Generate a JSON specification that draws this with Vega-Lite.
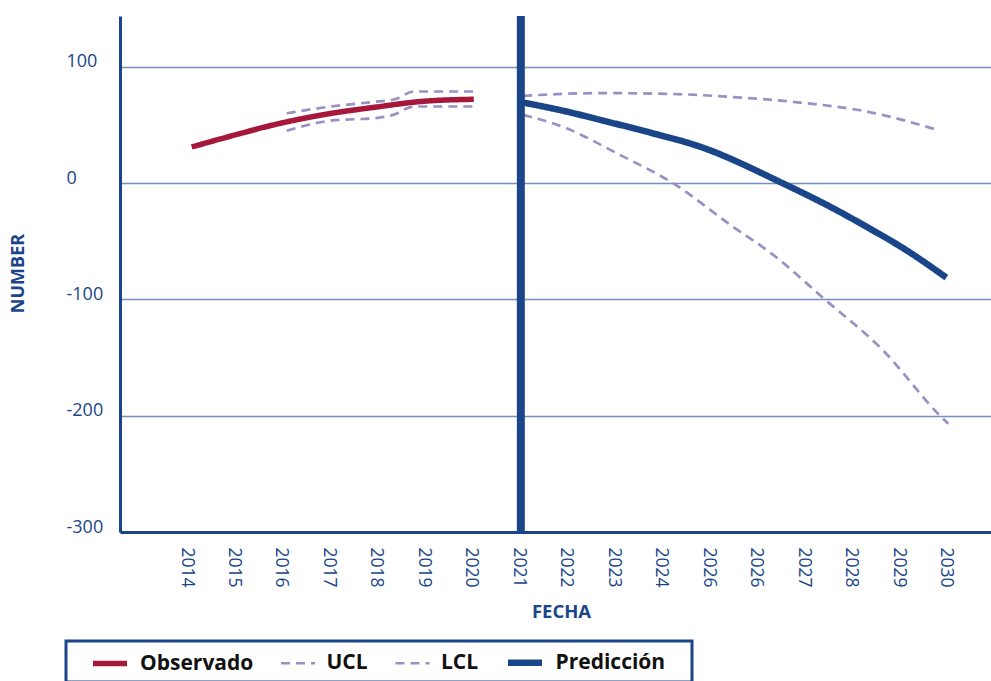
{
  "$schema": "https://vega.github.io/schema/vega-lite/v6.json",
  "width": 871,
  "height": 516,
  "autosize": {"type": "none"},
  "padding": {"left": 120, "top": 16, "right": 0, "bottom": 149},
  "background": "white",
  "config": {
    "view": {"stroke": null},
    "font": "Open Sans",
    "legend": {"strokeWidth": 3}
  },
  "datasets": {
    "series": [
      {"fecha": 2014.12, "valor": 31, "serie": "Observado", "grupo": "obs"},
      {"fecha": 2015.0, "valor": 41, "serie": "Observado", "grupo": "obs"},
      {"fecha": 2016.0, "valor": 51.5, "serie": "Observado", "grupo": "obs"},
      {"fecha": 2017.0, "valor": 59.5, "serie": "Observado", "grupo": "obs"},
      {"fecha": 2018.0, "valor": 65.3, "serie": "Observado", "grupo": "obs"},
      {"fecha": 2019.0, "valor": 70.3, "serie": "Observado", "grupo": "obs"},
      {"fecha": 2020.06, "valor": 72, "serie": "Observado", "grupo": "obs"},

      {"fecha": 2016.12, "valor": 60, "serie": "UCL", "grupo": "ucl_h"},
      {"fecha": 2017.0, "valor": 65.5, "serie": "UCL", "grupo": "ucl_h"},
      {"fecha": 2018.0, "valor": 70, "serie": "UCL", "grupo": "ucl_h"},
      {"fecha": 2018.4, "valor": 72, "serie": "UCL", "grupo": "ucl_h"},
      {"fecha": 2018.8, "valor": 78.7, "serie": "UCL", "grupo": "ucl_h"},
      {"fecha": 2020.08, "valor": 78.7, "serie": "UCL", "grupo": "ucl_h"},

      {"fecha": 2016.12, "valor": 45, "serie": "LCL", "grupo": "lcl_h"},
      {"fecha": 2017.0, "valor": 53.4, "serie": "LCL", "grupo": "lcl_h"},
      {"fecha": 2018.08, "valor": 56.3, "serie": "LCL", "grupo": "lcl_h"},
      {"fecha": 2018.36, "valor": 58.6, "serie": "LCL", "grupo": "lcl_h"},
      {"fecha": 2018.79, "valor": 65.8, "serie": "LCL", "grupo": "lcl_h"},
      {"fecha": 2020.08, "valor": 65.8, "serie": "LCL", "grupo": "lcl_h"},

      {"fecha": 2021.1, "valor": 69.2, "serie": "Predicción", "grupo": "pred"},
      {"fecha": 2022.01, "valor": 61.5, "serie": "Predicción", "grupo": "pred"},
      {"fecha": 2022.72, "valor": 54.3, "serie": "Predicción", "grupo": "pred"},
      {"fecha": 2023.77, "valor": 43.4, "serie": "Predicción", "grupo": "pred"},
      {"fecha": 2024.82, "valor": 31.3, "serie": "Predicción", "grupo": "pred"},
      {"fecha": 2026.57, "valor": -0.3, "serie": "Predicción", "grupo": "pred"},
      {"fecha": 2027.63, "valor": -21.8, "serie": "Predicción", "grupo": "pred"},
      {"fecha": 2028.33, "valor": -37.6, "serie": "Predicción", "grupo": "pred"},
      {"fecha": 2029.17, "valor": -57.8, "serie": "Predicción", "grupo": "pred"},
      {"fecha": 2030.01, "valor": -81.3, "serie": "Predicción", "grupo": "pred"},

      {"fecha": 2021.1, "valor": 75, "serie": "UCL", "grupo": "ucl_f"},
      {"fecha": 2022.72, "valor": 77.3, "serie": "UCL", "grupo": "ucl_f"},
      {"fecha": 2024.12, "valor": 76.7, "serie": "UCL", "grupo": "ucl_f"},
      {"fecha": 2025.52, "valor": 73.9, "serie": "UCL", "grupo": "ucl_f"},
      {"fecha": 2026.93, "valor": 69.2, "serie": "UCL", "grupo": "ucl_f"},
      {"fecha": 2028.33, "valor": 61.5, "serie": "UCL", "grupo": "ucl_f"},
      {"fecha": 2029.87, "valor": 45.1, "serie": "UCL", "grupo": "ucl_f"},

      {"fecha": 2021.1, "valor": 58.6, "serie": "LCL", "grupo": "lcl_f"},
      {"fecha": 2022.01, "valor": 47.1, "serie": "LCL", "grupo": "lcl_f"},
      {"fecha": 2023.07, "valor": 25.6, "serie": "LCL", "grupo": "lcl_f"},
      {"fecha": 2024.26, "valor": -0.3, "serie": "LCL", "grupo": "lcl_f"},
      {"fecha": 2025.52, "valor": -37.7, "serie": "LCL", "grupo": "lcl_f"},
      {"fecha": 2026.33, "valor": -60.7, "serie": "LCL", "grupo": "lcl_f"},
      {"fecha": 2027.45, "valor": -100, "serie": "LCL", "grupo": "lcl_f"},
      {"fecha": 2028.68, "valor": -144, "serie": "LCL", "grupo": "lcl_f"},
      {"fecha": 2029.84, "valor": -198.5, "serie": "LCL", "grupo": "lcl_f"},
      {"fecha": 2030.05, "valor": -207, "serie": "LCL", "grupo": "lcl_f"}
    ],
    "corte": [{"fecha": 2021.05}]
  },
  "layer": [
    {
      "data": {"name": "series"},
      "mark": {"type": "line", "interpolate": "monotone", "clip": true},
      "encoding": {
        "x": {
          "field": "fecha", "type": "quantitative",
          "scale": {"domain": [2012.61, 2030.95], "nice": false, "zero": false},
          "axis": {
            "values": [2014, 2015, 2016, 2017, 2018, 2019, 2020, 2021, 2022, 2023, 2024, 2025, 2026, 2027, 2028, 2029, 2030],
            "labelExpr": "datum.value == 2025 ? '2026' : toString(datum.value)",
            "labelAngle": 90,
            "labelAlign": "left",
            "labelBaseline": "middle",
            "labelPadding": 15,
            "labelFontSize": 17.5,
            "labelColor": "#1a4689",
            "ticks": false,
            "tickSize": 0,
            "grid": false,
            "domainColor": "#1a4689",
            "domainWidth": 3,
            "title": "FECHA",
            "titleColor": "#1a4689",
            "titleFontSize": 18.5,
            "titleFontWeight": "bold",
            "titleX": 441,
            "titleY": 70
          }
        },
        "y": {
          "field": "valor", "type": "quantitative",
          "scale": {"domain": [-300, 143.6], "nice": false, "zero": false},
          "axis": {
            "values": [-300, -200, -100, 0, 100],
            "labelExpr": "toString(datum.value)",
            "labelAlign": "left",
            "labelBaseline": "middle",
            "labelPadding": 54,
            "labelOffset": -5,
            "labelFontSize": 18,
            "labelColor": "#1a4689",
            "ticks": false,
            "tickSize": 0,
            "grid": true,
            "gridColor": "#7390bd",
            "gridWidth": 1.5,
            "domainColor": "#1a4689",
            "domainWidth": 3,
            "title": "NUMBER",
            "titleColor": "#1a4689",
            "titleFontSize": 18,
            "titleFontWeight": "bold",
            "titleX": -93,
            "titleY": 257
          }
        },
        "detail": {"field": "grupo"},
        "color": {
          "field": "serie", "type": "nominal",
          "scale": {"domain": ["Observado", "UCL", "LCL", "Predicción"], "range": ["#a5173b", "#9b90c6", "#9b90c6", "#1a4689"]},
          "legend": {
            "orient": "none", "legendX": -54, "legendY": 625,
            "direction": "horizontal",
            "title": "\u00a0",
            "titleOrient": "right",
            "titlePadding": 21,
            "strokeColor": "#1a4689",
            "padding": 6,
            "symbolOffset": 23,
            "symbolType": "M-1.417,0H1.417",
            "symbolSize": 576,
            "labelFontSize": 21,
            "labelFontWeight": "bold",
            "labelColor": "#111111",
            "labelOffset": 15,
            "columnPadding": 7.5,
            "labelLimit": 300
          }
        },
        "strokeDash": {
          "field": "serie", "type": "nominal",
          "scale": {"domain": ["Observado", "UCL", "LCL", "Predicción"], "range": [[1, 0], [9, 6], [9, 6], [1, 0]]},
          "legend": null
        },
        "strokeWidth": {
          "field": "serie", "type": "nominal",
          "scale": {"type": "ordinal", "domain": ["Observado", "UCL", "LCL", "Predicción"], "range": [5.5, 2.7, 2.7, 6.5]},
          "legend": null
        }
      }
    },
    {
      "data": {"name": "corte"},
      "mark": {"type": "rule", "color": "#1a4689", "strokeWidth": 8},
      "encoding": {
        "x": {"field": "fecha", "type": "quantitative"}
      }
    }
  ]
}
